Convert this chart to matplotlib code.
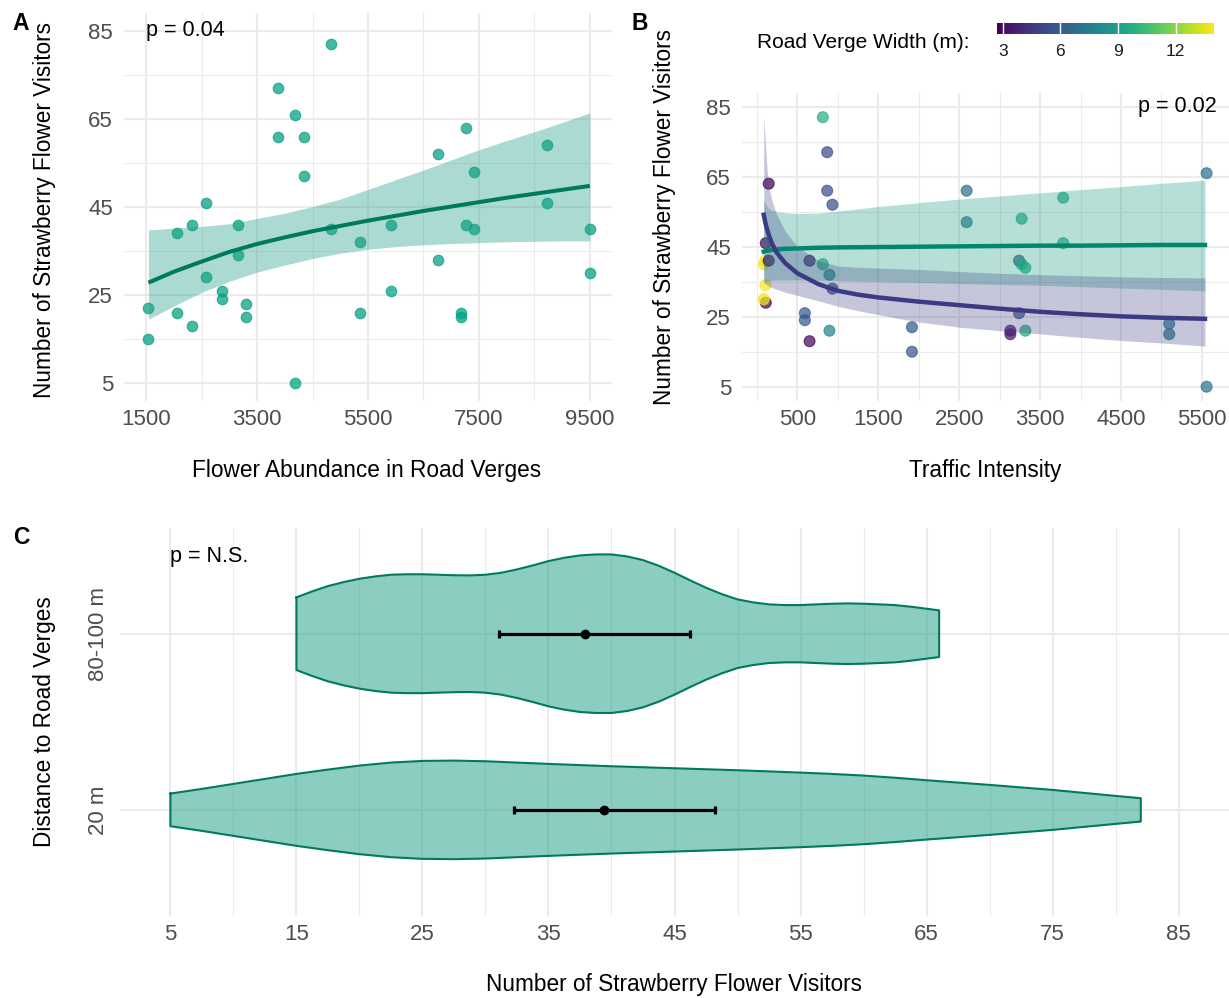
import numpy as np
import matplotlib
matplotlib.use("Agg")
import matplotlib.pyplot as plt
from matplotlib.colors import Normalize

plt.rcParams['font.family'] = ['Liberation Sans', 'DejaVu Sans']

# ---- site data (one row per site, two sampling distances per site) ----
flowers = [1540, 2050, 2320, 2570, 2860, 3160, 3300, 3870, 4190, 4340,
           4830, 5350, 5910, 6770, 7180, 7270, 7420, 8730, 9500]
traffic = [1916, 3318, 650, 109, 592, 104, 5096, 868, 5558, 2592,
           814, 896, 3240, 933, 3132, 145, 3272, 3785, 84]
verge_width = [5.8, 9.5, 3.0, 3.0, 5.8, 14.0, 7.0, 5.5, 7.0, 7.0,
               9.8, 7.8, 5.6, 5.5, 3.5, 2.7, 9.5, 9.5, 13.8]
visitors_1 = [22, 39, 41, 46, 26, 41, 23, 72, 66, 61, 82, 37, 41, 57, 21, 63, 53, 59, 40]
visitors_2 = [15, 21, 18, 29, 24, 34, 20, 61, 5, 52, 40, 21, 26, 33, 20, 41, 40, 46, 30]

# ---- panel A model fit ----
fitA_x = [1540, 2000, 2500, 3000, 3500, 4000, 4500, 5000, 5500,
          6000, 6500, 7000, 7500, 8000, 8500, 9000, 9500]
fitA_y = [27.8, 30.3, 32.6, 34.8, 36.6, 38.1, 39.5, 40.7, 41.9,
          43.0, 44.1, 45.1, 46.1, 47.1, 48.0, 48.9, 49.8]
fitA_lo = [19.5, 22.5, 25.6, 28.1, 30.2, 31.8, 33.3, 34.5, 35.4,
           36.0, 36.4, 36.7, 36.9, 37.1, 37.2, 37.3, 37.3]
fitA_hi = [39.8, 40.2, 40.6, 41.2, 42.4, 43.6, 45.1, 46.8, 49.0,
           51.2, 53.4, 55.7, 58.0, 60.1, 62.1, 64.2, 66.4]

# ---- panel B model fits ----
fitB_x = [84, 110, 140, 185, 245, 350, 500, 760, 1000, 1250, 1500, 1750, 2000,
          2500, 3000, 3500, 4000, 4500, 5000, 5538]
narrow_y = [54.1, 51.2, 48.8, 45.9, 43.3, 40.3, 37.4, 34.3, 32.4, 31.3, 30.5, 29.9, 29.3,
            28.3, 27.3, 26.4, 25.7, 25.1, 24.7, 24.4]
narrow_lo = [34.8, 34.3, 33.8, 33.3, 32.8, 32.0, 31.1, 29.5, 28.0, 26.7, 25.6, 24.5, 23.5,
             22.0, 21.0, 20.1, 19.1, 18.2, 17.5, 16.6]
narrow_hi = [82.6, 72.0, 62.5, 58.2, 54.1, 49.4, 45.0, 41.0, 39.5, 39.1, 38.9, 38.7, 38.5,
             37.9, 37.4, 37.0, 36.7, 36.4, 36.2, 36.1]
wide_y = [43.6, 43.8, 43.9, 44.1, 44.2, 44.4, 44.5, 44.7, 44.8, 44.85, 44.9, 44.95, 45.0,
          45.1, 45.2, 45.3, 45.3, 45.4, 45.5, 45.5]
wide_lo = [34.8, 35.0, 35.2, 35.4, 35.5, 35.5, 35.5, 35.4, 35.3, 35.15, 35.0, 34.9, 34.8,
           34.5, 34.2, 34.0, 33.6, 33.2, 32.8, 32.4]
wide_hi = [58.3, 57.0, 56.0, 55.3, 55.0, 54.7, 54.5, 54.6, 55.2, 55.8, 56.5, 57.0, 57.6,
           58.6, 59.5, 60.4, 61.3, 62.2, 63.1, 64.0]

# ---- panel C violins (density profiles) and mean with CI ----
groups = ['20 m', '80-100 m']
dens20_x = [5, 7.5, 10, 12.5, 15, 17.5, 20, 22.5, 25, 27.5, 30, 32.5, 35, 37.5,
            40, 42.5, 45, 47.5, 50, 52.5, 55, 57.5, 60, 62.5, 65, 67.5, 70,
            72.5, 75, 77.5, 80, 82]
dens20 = [0.00651, 0.00837, 0.01036, 0.01235, 0.01434, 0.01607, 0.01766, 0.01886,
          0.01952, 0.01965, 0.01939, 0.01886, 0.01833, 0.01786, 0.01740, 0.01700,
          0.01660, 0.01620, 0.01580, 0.01534, 0.01487, 0.01434, 0.01368, 0.01282,
          0.01182, 0.01089, 0.00996, 0.00896, 0.00797, 0.00677, 0.00558, 0.00465]
dens80_x = [15, 16.25, 17.5, 18.75, 20, 21.25, 22.5, 23.75, 25, 26.25, 27.5, 28.75,
            30, 31.25, 32.5, 33.75, 35, 36.25, 37.5, 38.75, 40, 41.25, 42.5, 43.75,
            45, 46.25, 47.5, 48.75, 50, 51.25, 52.5, 53.75, 55, 56.25, 57.5, 58.75,
            60, 61.25, 62.5, 63.75, 65, 66]
dens80 = [0.01448, 0.01687, 0.01899, 0.02058, 0.02191, 0.02284, 0.02351, 0.02370,
          0.02370, 0.02351, 0.02331, 0.02324, 0.02351, 0.02430, 0.02563, 0.02722,
          0.02895, 0.03028, 0.03121, 0.03161, 0.03161, 0.03081, 0.02935, 0.02709,
          0.02430, 0.02125, 0.01833, 0.01580, 0.01368, 0.01248, 0.01169, 0.01142,
          0.01142, 0.01169, 0.01195, 0.01208, 0.01195, 0.01169, 0.01142, 0.01076,
          0.00996, 0.00930]
group_mean = [39.4, 37.9]
group_ci_lo = [32.3, 31.1]
group_ci_hi = [48.2, 46.2]

# ---- layout helpers ----
W, H = 1229, 998
fig = plt.figure(figsize=(W / 100, H / 100), dpi=100)


def box(l, t, r, b):
    return [l / W, 1 - b / H, (r - l) / W, (b - t) / H]


def px(x, y):
    return x / W, 1 - y / H


TICK_C = '#4d4d4d'
TEAL = '#21a086'
DARKTEAL = '#007a5e'
TICK_FS = 16
TITLE_FS = 16.3


def style(ax):
    for s in ax.spines.values():
        s.set_visible(False)
    ax.tick_params(which='both', length=0, labelsize=TICK_FS, labelcolor=TICK_C)
    ax.tick_params(axis='x', pad=6.0)
    ax.tick_params(axis='y', pad=7.9)
    ax.grid(True, which='major', color='#ebebeb', lw=1.5, zorder=0)
    ax.grid(True, which='minor', color='#ebebeb', lw=0.75, zorder=0)
    ax.set_axisbelow(True)


# ---------------- panel A ----------------
axA = fig.add_axes(box(124, 13.4, 612, 400.6))
style(axA)
fx = flowers + flowers
vy = visitors_1 + visitors_2
axA.scatter(fx, vy, s=58, color='#009e80', alpha=0.72, edgecolor='#009e80',
            linewidth=0.8, zorder=2)
axA.fill_between(fitA_x, fitA_lo, fitA_hi, color=TEAL, alpha=0.38, lw=0, zorder=3)
axA.plot(fitA_x, fitA_y, color=DARKTEAL, lw=2.9, zorder=4, solid_capstyle='butt')
axA.set_xlim(1100, 9900)
axA.set_ylim(1, 89)
axA.set_xticks([1500, 3500, 5500, 7500, 9500])
axA.set_xticks([2500, 4500, 6500, 8500], minor=True)
axA.set_yticks([5, 25, 45, 65, 85])
axA.set_yticks([15, 35, 55, 75], minor=True)
axA.text(1500, 85, 'p = 0.04', fontsize=15.5, ha='left', va='center')

# ---------------- panel B ----------------
axB = fig.add_axes(box(742, 92.7, 1229, 400.7))
style(axB)
norm = Normalize(2.7, 14.0)
cmap = plt.get_cmap('viridis')
tx = traffic + traffic
wc = [cmap(norm(w)) for w in verge_width + verge_width]
axB.scatter(tx, vy, s=62, c=wc, alpha=0.72, edgecolors=wc, linewidth=0.8, zorder=2)
axB.fill_between(fitB_x, wide_lo, wide_hi, color=TEAL, alpha=0.33, lw=0, zorder=3)
axB.fill_between(fitB_x, narrow_lo, narrow_hi, color='#414487', alpha=0.3, lw=0, zorder=3)
axB.plot(fitB_x, wide_y, color='#00876e', lw=3.2, zorder=4)
axB.plot(fitB_x, narrow_y, color='#3b3a85', lw=3.2, zorder=4)
axB.set_xlim(-185, 5835)
axB.set_ylim(1, 89)
axB.set_xticks([500, 1500, 2500, 3500, 4500, 5500])
axB.set_xticks([0, 1000, 2000, 3000, 4000, 5000], minor=True)
axB.set_yticks([5, 25, 45, 65, 85])
axB.set_yticks([15, 35, 55, 75], minor=True)
axB.text(5680, 85, 'p = 0.02', fontsize=15.5, ha='right', va='center')

# colour bar legend
cax = fig.add_axes(box(997, 23.3, 1214, 34.3))
grad = np.linspace(2.7, 14.0, 300).reshape(1, -1)
cax.imshow(grad, aspect='auto', cmap=cmap, norm=norm, extent=(2.7, 14.0, 0, 1))
for t in [3, 6, 9, 12]:
    cax.axvline(t, color='white', lw=1)
cax.set_xlim(2.7, 14.0)
cax.set_axis_off()
for t in [3, 6, 9, 12]:
    xp = 997 + (t - 2.7) / (14.0 - 2.7) * (1214 - 997)
    fig.text(*px(xp, 51), str(t), fontsize=12.5, ha='center', va='center', color='#1a1a1a')
fig.text(*px(757, 43), 'Road Verge Width (m):', fontsize=15, ha='left', va='center')

# ---------------- panel C ----------------
axC = fig.add_axes(box(120, 528, 1229, 915.6))
style(axC)
axC.grid(False, which='minor', axis='y')
dmax = max(max(dens20), max(dens80))
for pos, xs, ds in [(1, dens20_x, dens20), (2, dens80_x, dens80)]:
    xs = np.array(xs)
    hw = np.array(ds) / dmax * 0.45
    axC.fill_between(xs, pos - hw, pos + hw, color=TEAL, alpha=0.52, lw=0, zorder=2)
    ox = np.concatenate([xs, xs[::-1], xs[:1]])
    oy = np.concatenate([pos + hw, (pos - hw)[::-1], [pos + hw[0]]])
    axC.plot(ox, oy, color=DARKTEAL, lw=1.5, zorder=3, solid_joinstyle='round')
pos = [1, 2]
err = [np.array(group_mean) - np.array(group_ci_lo), np.array(group_ci_hi) - np.array(group_mean)]
axC.errorbar(group_mean, pos, xerr=err, fmt='o', color='black', ms=6, lw=2.3,
             capsize=3.2, capthick=2.3, zorder=4)
axC.set_xlim(1, 89)
axC.set_ylim(0.4, 2.6)
axC.set_xticks(list(range(5, 90, 10)))
axC.set_xticks(list(range(10, 90, 10)), minor=True)
axC.set_yticks(pos)
axC.set_yticklabels(groups, rotation=90, va='center')
axC.text(5, 2.44, 'p = N.S.', fontsize=15.5, ha='left', va='center')

# ---------------- titles and panel letters ----------------
fig.text(*px(367, 470), 'Flower Abundance in Road Verges', fontsize=TITLE_FS, ha='center', va='center')
fig.text(*px(985, 470), 'Traffic Intensity', fontsize=TITLE_FS, ha='center', va='center')
fig.text(*px(674, 985), 'Number of Strawberry Flower Visitors', fontsize=TITLE_FS,
         ha='center', va='center')
fig.text(*px(45, 210), 'Number of Strawberry Flower Visitors', fontsize=TITLE_FS, ha='center',
         va='center', rotation=90)
fig.text(*px(665, 217), 'Number of Strawberry Flower Visitors', fontsize=TITLE_FS, ha='center',
         va='center', rotation=90)
fig.text(*px(45, 722), 'Distance to Road Verges', fontsize=TITLE_FS, ha='center', va='center',
         rotation=90)
for lab, x, y in [('A', 21, 24), ('B', 640, 23), ('C', 21, 538)]:
    fig.text(*px(x, y), lab, fontsize=16.5, fontweight='bold', ha='center', va='center')

fig.savefig('out.png', dpi=100)
